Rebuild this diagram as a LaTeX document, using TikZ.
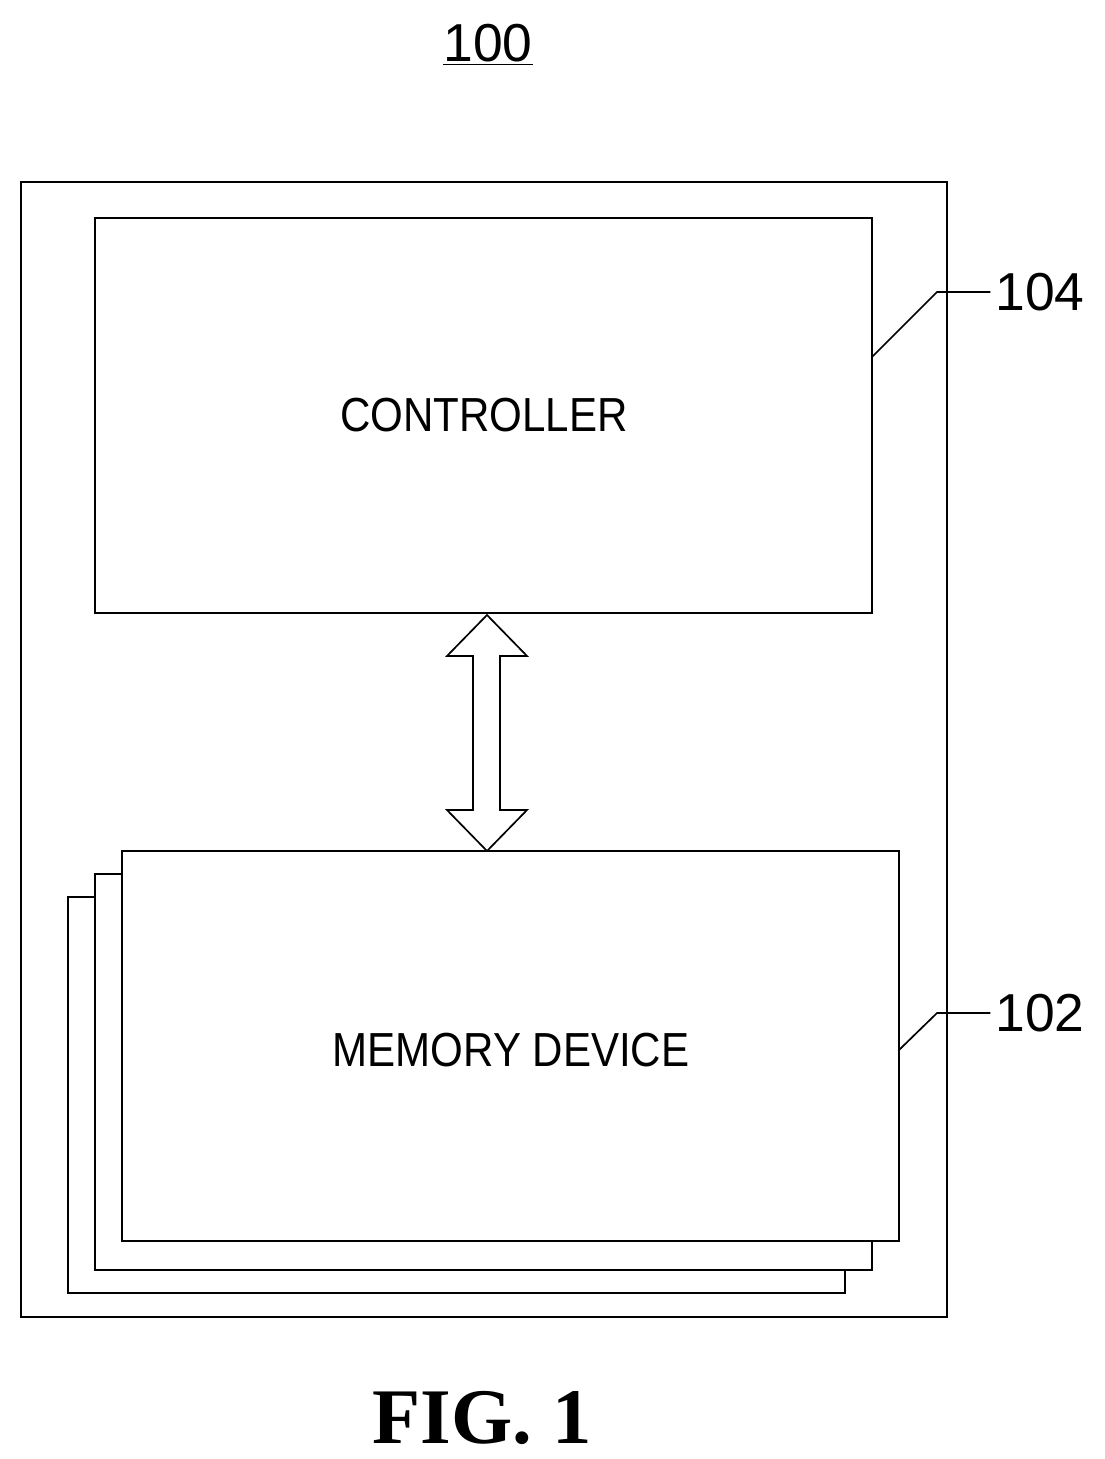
\documentclass[tikz,border=0pt]{standalone}
\usepackage{fontspec}
\setmainfont{Liberation Sans}
\newfontfamily\figfont{Liberation Serif}
\usetikzlibrary{positioning}
\newcommand{\narrow}[1]{\scalebox{0.88}[1]{#1}}
\tikzset{box/.style={draw,line width=1.2pt,fill=white},
  lbl/.style={font=\fontsize{38}{40}\selectfont},
  txt/.style={font=\fontsize{34}{36}\selectfont},
  lead/.style={line width=1.2pt}}
\begin{document}
\begin{tikzpicture}[x=0.25mm,y=-0.25mm]
    \useasboundingbox (0,0) rectangle (1104,1459);
    \node[lbl] (num) at (488,45) {\underline{100}};
    \draw[line width=1.2pt] (21,182) rectangle (947,1317);

    \draw[box] (95,218) rectangle (872,613);
    \node[txt] (ctrl) at (484,415) {\narrow{CONTROLLER}};

    \draw[box] (68,897) rectangle (845,1293);
    \draw[box] (95,874) rectangle (872,1270);
    \draw[box] (122,851) rectangle (899,1241);
    \node[txt] (mem) at (511,1050) {\narrow{MEMORY DEVICE}};

    % bus arrow
    \draw[line width=1.2pt,fill=white] (487,615) -- (527,656) -- (500,656) -- (500,810)
      -- (527,810) -- (487,851) -- (447,810) -- (473,810) -- (473,656) -- (447,656) -- cycle;

    \node[lbl] (n104) at (1040,292) {104};
    \draw[lead] (872,357) -- (937,292) -- (n104.west);
    \node[lbl] (n102) at (1040,1013) {102};
    \draw[lead] (899,1050) -- (937,1013) -- (n102.west);

    \node[font=\figfont\bfseries\fontsize{56}{60}\selectfont] (fig) at (482,1418) {FIG. 1};
\end{tikzpicture}
\end{document}
